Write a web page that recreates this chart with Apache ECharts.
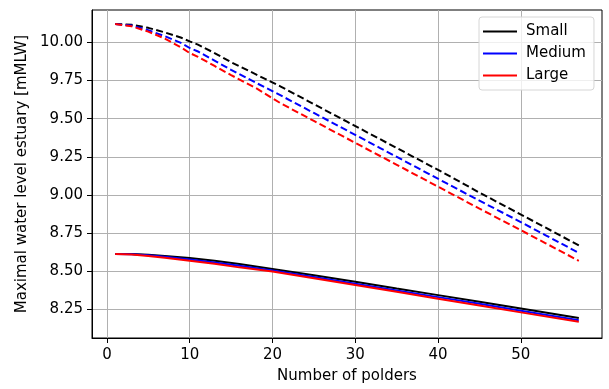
<!DOCTYPE html>
<html>
<head>
<meta charset="utf-8">
<script src="https://cdn.jsdelivr.net/npm/echarts@6/dist/echarts.min.js"></script>
<style>
  html, body { margin: 0; padding: 0; background: #fff; }
  #chart { width: 609px; height: 389px; }
</style>
</head>
<body>
<div id="chart"></div>
<script>
// Number of polders at which each run was sampled
const xDashed = [1, 3, 5, 7, 9, 10, 11, 13, 15, 18, 21, 25, 29, 33, 37, 41, 45, 49, 53, 57];
const xSolid = [1, 3, 5, 7, 10, 13, 16, 20, 25, 30, 35, 40, 45, 50, 57];

// Upper (dashed) family of curves [mMLW]
const smallDashed  = [10.12, 10.115, 10.095, 10.065, 10.03, 10.006, 9.985, 9.93, 9.87, 9.79, 9.71, 9.595, 9.48, 9.365, 9.25, 9.135, 9.015, 8.90, 8.785, 8.669];
const mediumDashed = [10.12, 10.11, 10.08, 10.04, 9.995, 9.963, 9.94, 9.88, 9.82, 9.735, 9.652, 9.537, 9.422, 9.307, 9.192, 9.077, 8.962, 8.85, 8.735, 8.62];
const largeDashed  = [10.12, 10.105, 10.07, 10.025, 9.965, 9.93, 9.905, 9.845, 9.785, 9.70, 9.60, 9.485, 9.37, 9.255, 9.14, 9.025, 8.91, 8.797, 8.683, 8.568];

// Lower (solid) family of curves [mMLW]
const smallSolid  = [8.612, 8.612, 8.607, 8.600, 8.586, 8.568, 8.547, 8.515, 8.473, 8.430, 8.386, 8.343, 8.299, 8.255, 8.193];
const mediumSolid = [8.612, 8.611, 8.604, 8.594, 8.577, 8.557, 8.535, 8.505, 8.462, 8.418, 8.374, 8.330, 8.286, 8.240, 8.178];
const largeSolid  = [8.612, 8.609, 8.600, 8.588, 8.569, 8.548, 8.525, 8.498, 8.454, 8.410, 8.365, 8.320, 8.275, 8.230, 8.168];

const xTicks = [0, 10, 20, 30, 40, 50];
const yTicks = [8.25, 8.50, 8.75, 9.00, 9.25, 9.50, 9.75, 10.00];

const zip = (xs, ys) => xs.map((x, i) => [x, ys[i]]);

const FONT = 'DejaVu Sans';
const colors = { Small: '#000000', Medium: '#0000ff', Large: '#ff0000' };

function lineSeries(name, xs, ys, dashed) {
  const c = colors[name.split(' ')[0]];
  return {
    name: name,
    type: 'line',
    data: zip(xs, ys),
    showSymbol: false,
    symbol: 'none',
    silent: true,
    animation: false,
    color: c,
    lineStyle: {
      width: 2,
      color: c,
      type: dashed ? [7, 3.4] : 'solid'
    }
  };
}

const chart = echarts.init(document.getElementById('chart'), null, { renderer: 'canvas' });

chart.setOption({
  animation: false,
  backgroundColor: '#ffffff',
  textStyle: { fontFamily: FONT },
  grid: {
    left: 92, top: 10, right: 7, bottom: 47,
    show: true,
    borderColor: '#000000',
    borderWidth: 1,
    containLabel: false
  },
  legend: {
    left: 479, top: 17,
    orient: 'vertical',
    data: [
      { name: 'Small', icon: 'rect' },
      { name: 'Medium', icon: 'rect' },
      { name: 'Large', icon: 'rect' }
    ],
    itemWidth: 34,
    itemHeight: 2,
    itemGap: 5,
    padding: [6, 8, 6, 4],
    borderColor: '#d6d6d6',
    borderWidth: 1,
    borderRadius: 3,
    backgroundColor: 'rgba(255,255,255,0.8)',
    textStyle: { fontFamily: FONT, fontSize: 15, color: '#000', padding: [0, 0, 0, 4], lineHeight: 17 },
    selectedMode: false
  },
  xAxis: {
    type: 'value',
    min: -1.8,
    max: 59.8,
    name: 'Number of polders',
    nameLocation: 'middle',
    nameGap: 31,
    nameTextStyle: { fontFamily: FONT, fontSize: 15, color: '#000' },
    axisLine: { show: true, onZero: false, lineStyle: { color: '#000', width: 1 } },
    axisTick: { show: true, customValues: xTicks, length: 5, lineStyle: { color: '#000', width: 1 } },
    axisLabel: { customValues: xTicks, margin: 10, fontFamily: FONT, fontSize: 15, color: '#000' },
    splitLine: { show: true, lineStyle: { color: '#b0b0b0', width: 1 } }
  },
  yAxis: {
    type: 'value',
    min: 8.062,
    max: 10.212,
    name: 'Maximal water level estuary [mMLW]',
    nameLocation: 'middle',
    nameGap: 60,
    nameTextStyle: { fontFamily: FONT, fontSize: 15, color: '#000' },
    axisLine: { show: true, onZero: false, lineStyle: { color: '#000', width: 1 } },
    axisTick: { show: true, customValues: yTicks, length: 5, lineStyle: { color: '#000', width: 1 } },
    axisLabel: {
      customValues: yTicks, margin: 9, fontFamily: FONT, fontSize: 15, color: '#000',
      formatter: v => v.toFixed(2)
    },
    splitLine: { show: true, lineStyle: { color: '#b0b0b0', width: 1 } }
  },
  series: [
    lineSeries('Small', xSolid, smallSolid, false),
    lineSeries('Medium', xSolid, mediumSolid, false),
    lineSeries('Large', xSolid, largeSolid, false),
    lineSeries('Small dashed', xDashed, smallDashed, true),
    lineSeries('Medium dashed', xDashed, mediumDashed, true),
    lineSeries('Large dashed', xDashed, largeDashed, true)
  ]
});
</script>
</body>
</html>
